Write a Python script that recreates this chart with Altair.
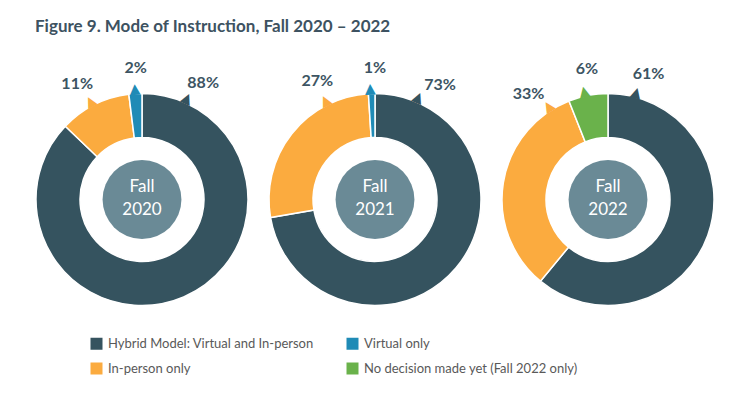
import math
import altair as alt
import pandas as pd

# ---------------- data ----------------
YEARS = [2020, 2021, 2022]
CENTER_LABELS = ["Fall\n2020", "Fall\n2021", "Fall\n2022"]
CATEGORIES = [
    "Hybrid Model: Virtual and In-person",
    "In-person only",
    "Virtual only",
    "No decision made yet (Fall 2022 only)",
]
HYBRID = [88, 73, 61]
IN_PERSON = [11, 27, 33]
VIRTUAL = [2, 1, 0]
NO_DECISION = [0, 0, 6]

# drawing order clockwise from 12 o'clock
SLICE_ORDER = {CATEGORIES[0]: 1, CATEGORIES[1]: 2, CATEGORIES[2]: 3, CATEGORIES[3]: 3}

# callout (label) angles in degrees, clockwise from top, per year: hybrid, in-person, virtual/no-decision
LABEL_DEG = {
    2020: [27.6, -29.4, -2.7],
    2021: [29.5, -25.9, 0.0],
    2022: [17.9, -37.0, -9.2],
}
TAIL_DEG = {
    2020: [24.0, -27.8, -3.7],
    2021: [23.0, -26.7, -2.5],
    2022: [14.8, -32.6, -12.4],
}

COLORS = ["#35535f", "#fbab3f", "#1f8bb6", "#6ab24b"]

rows = []
for i, y in enumerate(YEARS):
    series = [
        (CATEGORIES[0], HYBRID[i], 0),
        (CATEGORIES[1], IN_PERSON[i], 1),
        (CATEGORIES[2], VIRTUAL[i], 2),
        (CATEGORIES[3], NO_DECISION[i], 2),
    ]
    for cat, v, k in series:
        if v <= 0:
            continue
        ld = LABEL_DEG[y][k] % 360
        td = TAIL_DEG[y][k] % 360
        rows.append(
            dict(
                year=y,
                cat=cat,
                value=v,
                ord=SLICE_ORDER[cat],
                label=f"{v}%",
                lab_rad=math.radians(ld),
                tail_rad=math.radians(td),
                tail_deg=td,
            )
        )
df = pd.DataFrame(rows)
centers = pd.DataFrame({"year": YEARS, "center": CENTER_LABELS})

# ---------------- layout ----------------
FONT = "Lato"
W, H = 220, 301
cs = alt.Scale(domain=CATEGORIES, range=COLORS)
legend = alt.Legend(
    orient="none",
    legendX=58,
    legendY=288,
    columns=2,
    title=None,
    symbolType="square",
    symbolSize=144,
    symbolStrokeWidth=0,
    labelFont=FONT,
    labelFontSize=13,
    labelColor="#595959",
    labelLimit=0,
    labelOffset=5,
    columnPadding=32,
    rowPadding=11,
)


def donut(year, center_text):
    base = alt.Chart(df).transform_filter(alt.datum.year == year)
    arcs = base.mark_arc(outerRadius=106, innerRadius=62, stroke="white", strokeWidth=1.5).encode(
        theta=alt.Theta("value:Q"),
        order=alt.Order("ord:Q"),
        color=alt.Color("cat:N", scale=cs, legend=legend),
    )
    tails = base.mark_text(text="▲", radius=110.5, fontSize=14, font="DejaVu Sans", baseline="middle").encode(
        theta=alt.Theta("tail_rad:Q", stack=None, scale=None),
        angle=alt.Angle("tail_deg:Q", scale=None),
        color=alt.Color("cat:N", scale=cs, legend=legend),
    )
    labels = base.mark_text(
        radius=132, fontSize=16, fontWeight="bold", font=FONT, color="#3d5563", baseline="middle"
    ).encode(
        theta=alt.Theta("lab_rad:Q", stack=None, scale=None),
        text="label:N",
    )
    cbase = alt.Chart(centers).transform_filter(alt.datum.year == year)
    hub = cbase.mark_circle(size=6221, opacity=1, color="#6a8a96").encode(
        x=alt.value(W / 2), y=alt.value(H / 2)
    )
    hub_text = cbase.mark_text(
        lineBreak="\n", fontSize=17, font=FONT, color="white", lineHeight=23, baseline="middle"
    ).encode(x=alt.value(W / 2), y=alt.value(137.5), text="center:N")
    return (
        alt.layer(arcs, tails, labels, hub, hub_text)
        .resolve_scale(theta="independent")
        .properties(width=W, height=H)
    )


chart = (
    alt.hconcat(*[donut(y, c) for y, c in zip(YEARS, CENTER_LABELS)], spacing=13)
    .properties(
        padding={"left": 24, "top": 10, "right": 0, "bottom": 0},
        title=alt.TitleParams(
            "Figure 9. Mode of Instruction, Fall 2020 – 2022",
            anchor="start",
            frame="group",
            dx=3,
            offset=13,
            font=FONT,
            fontSize=17,
            fontWeight="bold",
            color="#3d5261",
        ),
    )
    .configure_view(stroke=None)
)

chart.save("out.html", embed_options={"renderer": "svg", "actions": False})
